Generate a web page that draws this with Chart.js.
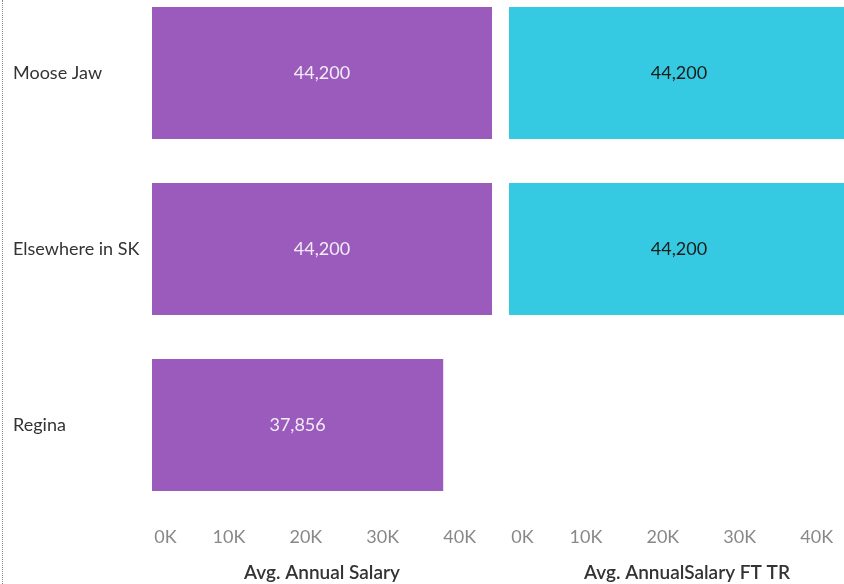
<!DOCTYPE html>
<html>
<head>
<meta charset="utf-8">
<script src="https://cdn.jsdelivr.net/npm/chart.js@4/dist/chart.umd.min.js"></script>
<style>
    html, body { margin: 0; padding: 0; background: #fff; overflow: hidden; }
    body { width: 844px; height: 584px; position: relative; }
    #edge { position: absolute; left: 2px; top: 0; height: 584px; border-left: 1px dotted #888; }
    #salaryChart { position: absolute; left: 0; top: -15px; }
    #ftChart { position: absolute; left: 469px; top: -15px; }
</style>
</head>
<body>
<div id="edge"></div>
<canvas id="salaryChart" width="500" height="599"></canvas>
<canvas id="ftChart" width="396" height="599"></canvas>
<script>
const cities = ['Moose Jaw', 'Elsewhere in SK', 'Regina'];
const avgSalary = [44200, 44200, 37856];
const avgSalaryFT = [44200, 44200, null];
const seriesNames = ['Avg. Annual Salary', 'Avg. AnnualSalary FT TR'];
const tickValues = [0, 10000, 20000, 30000, 40000];

const FONT = 'Lato, "Open Sans", sans-serif';
const axisMax = 44200;

// writes the value in the middle of each bar
const barLabels = {
    id: 'barLabels',
    afterDatasetsDraw(chart, args, opts) {
        let ctx = chart.ctx;
        ctx.save();
        ctx.font = '18px ' + FONT;
        ctx.fillStyle = opts.color;
        ctx.textAlign = 'center';
        ctx.textBaseline = 'middle';
        chart.getDatasetMeta(0).data.forEach(function(bar, i) {
            let v = chart.data.datasets[0].data[i];
            if (v == null) return;
            ctx.fillText(v.toLocaleString('en-US'), (bar.x + bar.base) / 2, bar.y);
        });
        ctx.restore();
    }
};

function makeChart(el, values, title, color, labelColor, showCities, max, padLeft) {
    return new Chart(el.getContext('2d'), {
        type: 'bar',
        data: {
            labels: cities,
            datasets: [{
                label: title,
                data: values,
                backgroundColor: color,
                borderWidth: 0,
                categoryPercentage: 1,
                barPercentage: 0.75
            }]
        },
        plugins: [barLabels],
        options: {
            indexAxis: 'y',
            responsive: false,
            animation: false,
            layout: { padding: { left: padLeft, right: showCities ? 8 : 0, top: 0, bottom: 0 } },
            plugins: {
                legend: { display: false },
                tooltip: { enabled: false },
                barLabels: { color: labelColor }
            },
            scales: {
                x: {
                    min: 0,
                    max: max,
                    grid: { display: false },
                    border: { display: false },
                    afterBuildTicks: function(axis) {
                        axis.ticks = tickValues.map(v => ({ value: v }));
                    },
                    afterFit: function(axis) { axis.height = 71; },
                    ticks: {
                        padding: 5,
                        color: '#888',
                        font: { family: FONT, size: 18 },
                        maxRotation: 0,
                        callback: function(v) {
                            return v === 0 ? '\u2002\u2002\u20020K' : (v / 1000) + 'K';
                        }
                    },
                    title: {
                        display: true,
                        text: title,
                        color: '#333',
                        font: { family: FONT, size: 19, weight: '600' },
                        padding: { top: 10, bottom: 0 }
                    }
                },
                y: {
                    display: showCities,
                    grid: { display: false },
                    border: { display: false },
                    afterFit: function(axis) {
                        if (!showCities) return;
                        axis.width = 139;
                        axis.paddingTop = 0;
                        axis.paddingBottom = 0;
                    },
                    ticks: {
                        crossAlign: 'far',
                        color: '#333',
                        font: { family: FONT, size: 18 }
                    }
                }
            }
        }
    });
}

var salaryChart = makeChart(document.getElementById('salaryChart'), avgSalary, seriesNames[0],
    '#9a5bbd', '#f2ecf6', true, axisMax, 13);

// right panel is a bit wider than the left one, same px per dollar
var ftChart = makeChart(document.getElementById('ftChart'), avgSalaryFT, seriesNames[1],
    '#36cae2', '#1b1b1b', false, axisMax * 356 / 340, 40);
</script>
</body>
</html>
